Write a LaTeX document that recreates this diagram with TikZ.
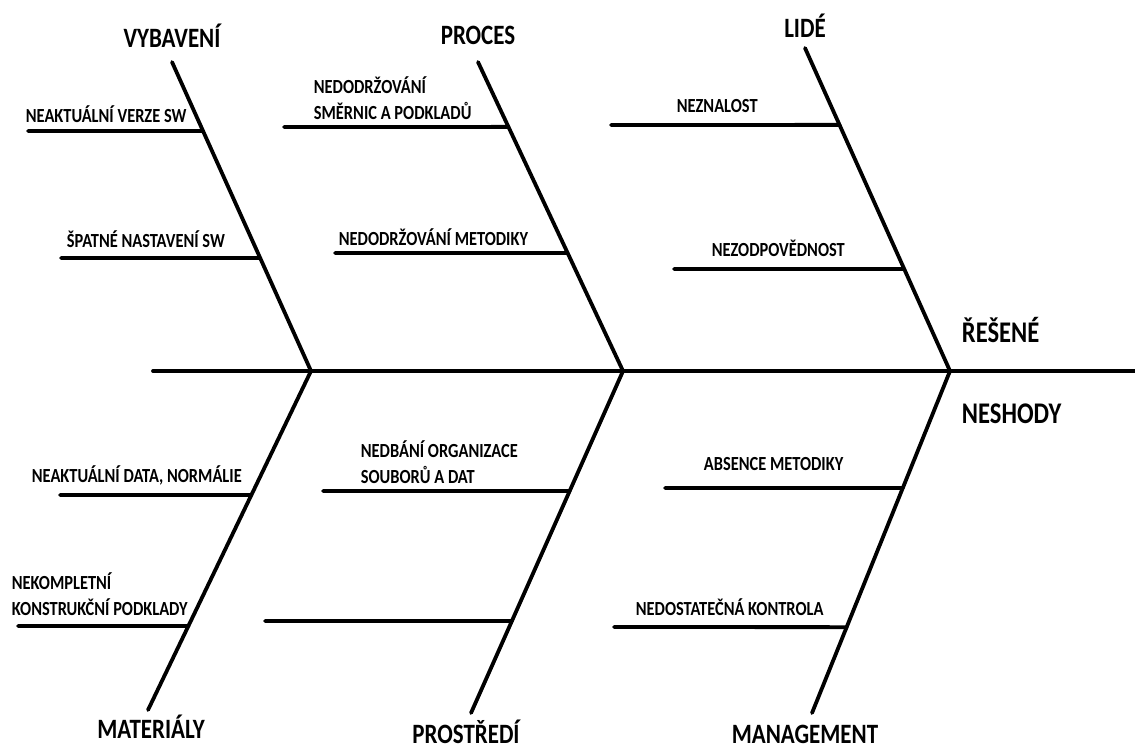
\documentclass[tikz,border=0pt]{standalone}
\usepackage{fontspec}
\setmainfont{Carlito}[FakeStretch=0.82]
\usepackage{tikz}
\usetikzlibrary{calc}
\usetikzlibrary{positioning}

\begin{document}
\begin{tikzpicture}[x=1pt,y=-1pt,line width=3.8pt,line cap=round,
                    node distance=12pt]
 \tikzstyle{cause}=[inner sep=0pt, align=left, font=\bfseries\fontsize{20}{26}\selectfont]
 \tikzstyle{group}=[inner sep=0pt, font=\bfseries\fontsize{28}{34}\selectfont]
 \tikzstyle{effect}=[inner sep=0pt, anchor=base west, font=\bfseries\fontsize{30}{36}\selectfont]
 \useasboundingbox (0,0) rectangle (1135,749);
 % spine and joints
 \coordinate (tail) at (153,371);
 \coordinate (head) at (1135,371);
 \coordinate (J1) at (311,371);
 \coordinate (J2) at (623,371);
 \coordinate (J3) at (950,371);
 % bone ends
 \coordinate (vyb) at (172,62);
 \coordinate (pro) at (478,62);
 \coordinate (lid) at (805,48);
 \coordinate (mat) at (148,710);
 \coordinate (pst) at (471,713);
 \coordinate (man) at (812,713);
 \draw (tail) -- (head);
 \draw (vyb) -- (J1) -- (mat);
 \draw (pro) -- (J2) -- (pst);
 \draw (lid) -- (J3) -- (man);
 % free ends of the ribs
 \coordinate (verze) at (28,131);
 \coordinate (nastav) at (61,258);
 \coordinate (smern) at (284,127);
 \coordinate (metod) at (335,253);
 \coordinate (znal) at (611,125);
 \coordinate (odpov) at (674,269);
 \coordinate (data) at (60,495);
 \coordinate (konstr) at (18,626);
 \coordinate (soub) at (323,491);
 \coordinate (prazd) at (265,621);
 \coordinate (absen) at (665,488);
 \coordinate (kontr) at (614,627);
 \draw (verze) -- ($(vyb)!0.223!(J1)$);
 \draw (nastav) -- ($(vyb)!0.634!(J1)$);
 \draw (smern) -- ($(pro)!0.210!(J2)$);
 \draw (metod) -- ($(pro)!0.618!(J2)$);
 \draw (znal) -- ($(lid)!0.238!(J3)$);
 \draw (odpov) -- ($(lid)!0.684!(J3)$);
 \draw (data) -- ($(J1)!0.366!(mat)$);
 \draw (konstr) -- ($(J1)!0.752!(mat)$);
 \draw (soub) -- ($(J2)!0.351!(pst)$);
 \draw (prazd) -- ($(J2)!0.731!(pst)$);
 \draw (absen) -- ($(J3)!0.342!(man)$);
 \draw (kontr) -- ($(J3)!0.749!(man)$);
 % groups
 \node[group] (Gvyb) [above=13pt of vyb] {VYBAVENÍ};
 \node[group] (Gpro) [above=15pt of pro] {PROCES};
 \node[group] (Glid) [above=9pt of lid] {LIDÉ};
 \node[group, anchor=base] (Gmat) at (151,738) {MATERIÁLY};
 \node[group, anchor=base] (Gpst) at (466,743) {PROSTŘEDÍ};
 \node[group, anchor=base] (Gman) at (805,743) {MANAGEMENT};
 % effect
 \node[effect] (E1) at (960,342) {ŘEŠENÉ};
 \node[effect] (E2) at (960,423) {NESHODY};
 % causes
 \node[cause, anchor=base west] (Cverze) at (24,123) {NEAKTUÁLNÍ VERZE SW};
 \node[cause, anchor=base west] (Cnastav) at (65,247) {ŠPATNÉ NASTAVENÍ SW};
 \node[cause, anchor=base west] (Csmern) at (312,120) {NEDODRŽOVÁNÍ\\SMĚRNIC A PODKLADŮ};
 \node[cause, anchor=base west] (Cmetod) at (337,245) {NEDODRŽOVÁNÍ METODIKY};
 \node[cause, anchor=base west] (Cznal) at (675,113) {NEZNALOST};
 \node[cause, anchor=base west] (Codpov) at (710,256) {NEZODPOVĚDNOST};
 \node[cause, anchor=base west] (Cdata) at (30,482) {NEAKTUÁLNÍ DATA, NORMÁLIE};
 \node[cause, anchor=base west] (Ckonstr) at (10,615) {NEKOMPLETNÍ\\KONSTRUKČNÍ PODKLADY};
 \node[cause, anchor=base west] (Csoub) at (359,483) {NEDBÁNÍ ORGANIZACE\\SOUBORŮ A DAT};
 \node[cause, anchor=base west] (Cabsen) at (702,470) {ABSENCE METODIKY};
 \node[cause, anchor=base west] (Ckontr) at (634,615) {NEDOSTATEČNÁ KONTROLA};
\end{tikzpicture}
\end{document}
